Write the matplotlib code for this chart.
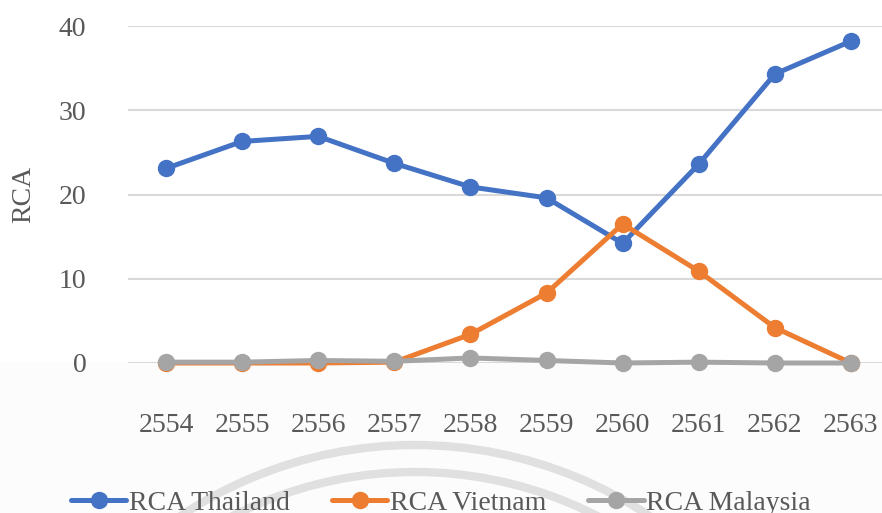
import matplotlib.pyplot as plt
import matplotlib.patches as pt
import numpy as np

plt.rcParams['font.family'] = ['Liberation Serif', 'DejaVu Serif']

years = ['2554', '2555', '2556', '2557', '2558', '2559', '2560', '2561', '2562', '2563']
rca_thailand = [23.1, 26.3, 26.9, 23.7, 20.9, 19.6, 14.2, 23.6, 34.3, 38.2]
rca_vietnam = [0.0, 0.0, 0.0, 0.1, 3.4, 8.3, 16.5, 10.9, 4.2, 0.0]
rca_malaysia = [0.1, 0.1, 0.3, 0.2, 0.6, 0.3, 0.0, 0.1, 0.0, 0.0]
series = [('RCA Thailand', rca_thailand, '#4472C4'),
          ('RCA Vietnam', rca_vietnam, '#ED7D31'),
          ('RCA Malaysia', rca_malaysia, '#A5A5A5')]

W, H = 882, 513
fig = plt.figure(figsize=(W / 100, H / 100), dpi=100)

# faint grey band at the bottom and the watermark arcs behind everything
bg = fig.add_axes([0, 0, 1, 1], zorder=-5)
bg.set_xlim(0, W)
bg.set_ylim(H, 0)
bg.axis('off')
bg.add_patch(pt.Rectangle((0, 362), W, H - 362, color='#fcfcfc', lw=0))
for r, top in [(423, 445), (400, 472)]:
    bg.add_patch(pt.Arc((415, top + r), 2 * r, 2 * r, theta1=180, theta2=360,
                        color='#e0e0e0', lw=6))

ax = fig.add_axes([128 / W, (H - 363) / H, 761 / W, 337 / H])
ax.patch.set_alpha(0)
x = np.arange(len(years))
for name, vals, c in series:
    ax.plot(x, vals, color=c, lw=3.6, marker='o', ms=11.5, label=name,
            clip_on=False, solid_capstyle='round')

ax.set_xlim(-0.5, len(years) - 0.5)
ax.set_ylim(0, 40)
ax.set_yticks([0, 10, 20, 30, 40])
ax.set_xticks(x)
ax.set_xticklabels(years)
ax.grid(axis='y', color='#d9d9d9', lw=1.5)
ax.set_axisbelow(True)
for s in ax.spines.values():
    s.set_visible(False)
ax.tick_params(length=0, labelsize=20, colors='#595959')
ax.tick_params(axis='x', pad=36)
ax.tick_params(axis='y', pad=30)
ax.set_ylabel('RCA', fontsize=20, color='#595959', labelpad=16)

fig.legend(loc='center', bbox_to_anchor=(0.5, (H - 503) / H), ncol=3,
           frameon=False, fontsize=20, labelcolor='#595959',
           handlelength=2.0, handletextpad=0.1, columnspacing=1.5)

fig.savefig('out.png', dpi=100)
